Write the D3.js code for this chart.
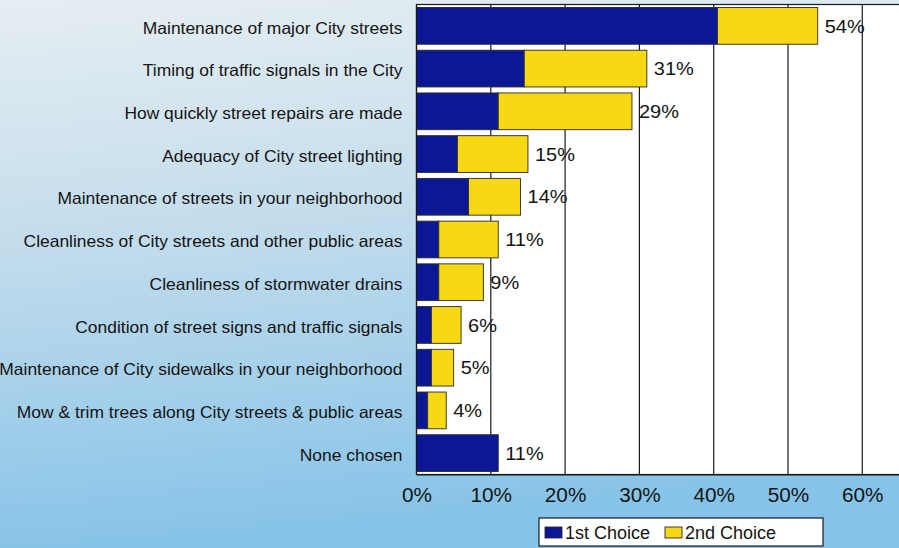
<!DOCTYPE html>
<html>
<head>
<meta charset="utf-8">
<script src="https://cdn.jsdelivr.net/npm/d3@7"></script>
<style>
  html, body { margin: 0; padding: 0; }
  body { width: 899px; height: 548px; overflow: hidden; }
  svg { display: block; font-family: Arial, "Liberation Sans", sans-serif; }
</style>
</head>
<body>
<svg id="chart" width="899" height="548"></svg>
<script>
// Street services survey: share of respondents choosing each item (percent)
const categories = [
  "Maintenance of major City streets",
  "Timing of traffic signals in the City",
  "How quickly street repairs are made",
  "Adequacy of City street lighting",
  "Maintenance of streets in your neighborhood",
  "Cleanliness of City streets and other public areas",
  "Cleanliness of stormwater drains",
  "Condition of street signs and traffic signals",
  "Maintenance of City sidewalks in your neighborhood",
  "Mow & trim trees along City streets & public areas",
  "None chosen"
];
const firstChoice  = [40.5, 14.5, 11, 5.5, 7, 3, 3, 2, 2, 1.5, 11];
const secondChoice = [13.5, 16.5, 18, 9.5, 7, 8, 6, 4, 3, 2.5, 0];
const totalLabels  = ["54%", "31%", "29%", "15%", "14%", "11%", "9%", "6%", "5%", "4%", "11%"];
const xTicks = [0, 10, 20, 30, 40, 50, 60];
const seriesNames = ["1st Choice", "2nd Choice"];
const seriesColors = ["#0b1794", "#f6d813"];

const svg = d3.select("#chart");
const W = 899, H = 548;

// Background wash: pale at the top, sky blue toward the bottom
const defs = svg.append("defs");
const grad = defs.append("linearGradient")
  .attr("id", "bg").attr("x1", 0).attr("y1", 0).attr("x2", 0.15).attr("y2", 1);
grad.append("stop").attr("offset", "0%").attr("stop-color", "#e6eef2");
grad.append("stop").attr("offset", "45%").attr("stop-color", "#c2dcec");
grad.append("stop").attr("offset", "100%").attr("stop-color", "#86c3e8");
svg.append("rect").attr("width", W).attr("height", H).attr("fill", "url(#bg)");

const plotLeft = 416.5, plotTop = 4.5, plotBottom = 474.5;
const x = d3.scaleLinear().domain([0, 70]).range([plotLeft, plotLeft + 7 * 74.3]);
const y = d3.scaleBand().domain(categories).range([plotTop, plotBottom])
  .paddingInner(0.14).paddingOuter(0.07);

// Text in this chart is set slightly wide
function wideText(sel, sx, dy = 0) {
  sel.each(function () {
    const t = d3.select(this);
    const tx = +t.attr("x") || 0, ty = (+t.attr("y") || 0) + dy;
    t.attr("transform", `translate(${tx},${ty}) scale(${sx},1)`).attr("x", 0).attr("y", 0);
  });
}

// Plot area
svg.append("rect")
  .attr("x", plotLeft).attr("y", plotTop)
  .attr("width", x(70) - plotLeft).attr("height", plotBottom - plotTop)
  .attr("fill", "#ffffff").attr("stroke", "#1a1a1a").attr("stroke-width", 1.2);

// Vertical gridlines
svg.append("g").selectAll("line")
  .data(xTicks.slice(1))
  .join("line")
  .attr("x1", d => x(d)).attr("x2", d => x(d))
  .attr("y1", plotTop).attr("y2", plotBottom)
  .attr("stroke", "#1a1a1a").attr("stroke-width", 1.2);

// Stacked bars
const rows = categories.map((c, i) => ({ cat: c, a: firstChoice[i], b: secondChoice[i], label: totalLabels[i] }));
const stack = d3.stack().keys(["a", "b"])(rows);

svg.append("g").selectAll("g")
  .data(stack)
  .join("g")
  .attr("fill", (d, i) => seriesColors[i])
  .selectAll("rect")
  .data(d => d.filter(s => s[1] - s[0] > 0))
  .join("rect")
  .attr("x", d => x(d[0]))
  .attr("y", d => y(d.data.cat))
  .attr("width", d => x(d[1]) - x(d[0]))
  .attr("height", y.bandwidth())
  .attr("stroke", "#2a2a2a").attr("stroke-width", 0.9);

// Total labels at the end of each bar
svg.append("g").selectAll("text")
  .data(rows)
  .join("text")
  .attr("x", d => x(d.a + d.b) + 7)
  .attr("y", d => y(d.cat) + y.bandwidth() / 2)
  .attr("dy", "0.36em")
  .attr("font-size", 18.5)
  .attr("fill", "#141414")
  .text(d => d.label)
  .call(wideText, 1.08);

// Left axis line
svg.append("line")
  .attr("x1", plotLeft).attr("x2", plotLeft)
  .attr("y1", plotTop).attr("y2", plotBottom)
  .attr("stroke", "#1a1a1a").attr("stroke-width", 1.2);

// Category labels
const yAxis = d3.axisLeft(y).tickSize(0).tickPadding(14);
const yg = svg.append("g").attr("transform", `translate(${plotLeft},0)`).call(yAxis);
yg.select(".domain").remove();
yg.selectAll("text")
  .attr("font-size", 16.3)
  .attr("font-family", "Arial, 'Liberation Sans', sans-serif")
  .attr("fill", "#141414")
  .call(wideText, 1.07, 2.5);

// Bottom axis labels
const xAxis = d3.axisBottom(x).tickValues(xTicks).tickSize(0).tickPadding(14)
  .tickFormat(d => d + "%");
const xg = svg.append("g").attr("transform", `translate(0,${plotBottom})`).call(xAxis);
xg.select(".domain").attr("stroke", "#1a1a1a").attr("stroke-width", 1.2);
xg.selectAll("text")
  .attr("font-size", 19.5)
  .attr("font-family", "Arial, 'Liberation Sans', sans-serif")
  .attr("fill", "#141414")
  .call(wideText, 1.065);

// Legend
const lg = svg.append("g").attr("transform", "translate(539,518)");
lg.append("rect").attr("width", 284).attr("height", 28)
  .attr("fill", "#ffffff").attr("stroke", "#1a1a1a").attr("stroke-width", 1.2);
const legendX = [6, 126];
seriesNames.forEach((name, i) => {
  lg.append("rect")
    .attr("x", legendX[i]).attr("y", 9)
    .attr("width", 17).attr("height", 11)
    .attr("fill", seriesColors[i]).attr("stroke", "#2a2a2a").attr("stroke-width", 0.9);
  lg.append("text")
    .attr("x", legendX[i] + 20).attr("y", 20.5)
    .attr("font-size", 18)
    .attr("fill", "#141414")
    .text(name);
});
</script>
</body>
</html>
